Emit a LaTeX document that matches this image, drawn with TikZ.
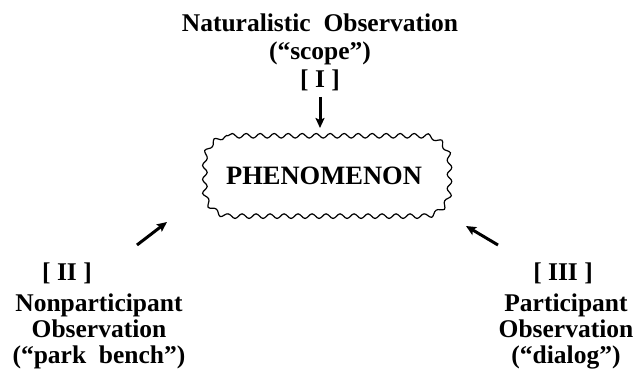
\documentclass[tikz,border=0pt]{standalone}
\usepackage{fontspec}
\setmainfont{Liberation Serif}
\usetikzlibrary{arrows.meta,decorations.pathmorphing}
\begin{document}
\begin{tikzpicture}[x=1pt,y=1pt,
  lbl/.style={font=\bfseries\fontsize{25.5}{26}\selectfont, align=center, inner sep=0pt},
  arr/.style={line width=3pt, -{Stealth[length=10pt,width=9pt,inset=2pt]}},
  cloudline/.style={draw, line width=1.2pt,
    decorate, decoration={snake, amplitude=2.3pt, segment length=14pt}},
  phenstyle/.style={font=\bfseries\fontsize{26.5}{28}\selectfont, minimum width=244pt, minimum height=80pt, inner sep=0pt}]
\useasboundingbox (0,0) rectangle (633,-379);
% top
\node[lbl] (nat) at (320,-23) {Naturalistic\ \ Observation};
\node[lbl] (scope) at (320,-53) {(“scope”)};
\node[lbl] (one) at (320,-80) {[ I ]};
% center
\node[phenstyle] (phen) at (324,-176) {PHENOMENON};
\draw[cloudline] ([xshift=26pt]phen.north west) -- ([xshift=-26pt]phen.north east)
  arc[start angle=90,end angle=0,radius=26pt] -- ([yshift=26pt]phen.south east)
  arc[start angle=0,end angle=-90,radius=26pt] -- ([xshift=26pt]phen.south west)
  arc[start angle=270,end angle=180,radius=26pt] -- ([yshift=-26pt]phen.north west)
  arc[start angle=180,end angle=90,radius=26pt] -- cycle;
% left
\node[lbl] (two) at (67,-273) {[ II ]};
\node[lbl] (left) at (99,-331) {Nonparticipant\\Observation\\(“park\ \ bench”)};
% right
\node[lbl] (three) at (563,-273) {[ III ]};
\node[lbl] (right) at (566,-331) {Participant\\Observation\\(“dialog”)};
% arrows
\coordinate (dt) at (320,-97);
\coordinate (dh) at (320,-128);
\coordinate (lt) at (137,-245);
\coordinate (lh) at (167,-222);
\coordinate (rt) at (498,-245);
\coordinate (rh) at (466,-226);
\draw[arr] (dt) -- (dh);
\draw[arr] (lt) -- (lh);
\draw[arr] (rt) -- (rh);
\end{tikzpicture}
\end{document}
